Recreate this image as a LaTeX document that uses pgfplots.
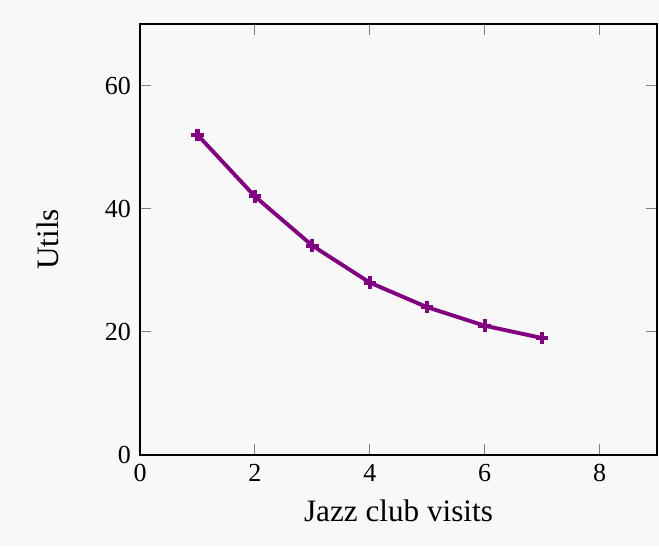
\documentclass[border=0pt]{standalone}
\usepackage{pgfplots}
\pgfplotsset{compat=1.18}
\usepackage{fontspec}
\setmainfont{Liberation Serif}
\definecolor{bgc}{RGB}{248,248,248}
\definecolor{linec}{RGB}{128,0,128}
\begin{document}
\begin{tikzpicture}
\fill[bgc] (-53.85pt,-35pt) rectangle (199.6pt,175pt);
\begin{axis}[
  at={(0pt,0pt)}, anchor=south west,
  scale only axis,
  width=198.85pt, height=165.8pt,
  xmin=0, xmax=9, ymin=0, ymax=70,
  xtick={0,2,4,6,8}, ytick={0,20,40,60},
  axis background/.style={fill=bgc},
  axis line style={black, thick},
  tick style={gray, thin},
  /pgf/number format/assume math mode=true,
  xlabel={\large Jazz club visits},
  ylabel={\large Utils},
  ylabel shift=11pt,
]
\addplot[color=linec, line width=1.5pt, mark=+, mark size=2.4pt, mark options={line width=1.6pt}] coordinates {
(1,52) (2,42) (3,34) (4,28) (5,24) (6,21) (7,19)
};
\end{axis}
\end{tikzpicture}
\end{document}
